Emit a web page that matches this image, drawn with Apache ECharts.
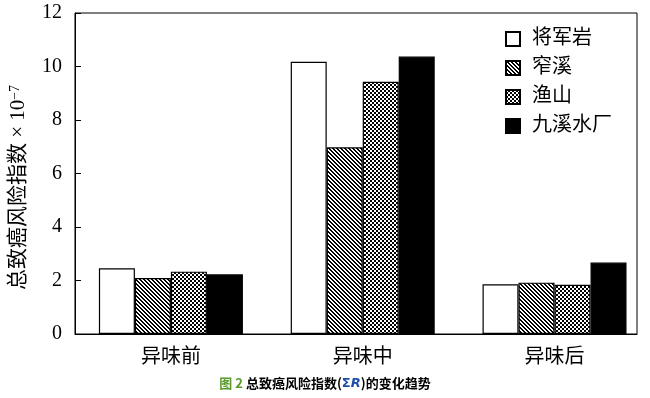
<!DOCTYPE html>
<html>
<head>
<meta charset="utf-8">
<script src="https://cdn.jsdelivr.net/npm/echarts@6/dist/echarts.min.js"></script>
<style>html,body{margin:0;padding:0;background:#fff}#c{width:650px;height:398px}</style>
</head>
<body>
<div id="c"></div>
<script>
// ---- data ----
var categories = ['异味前', '异味中', '异味后'];
var seriesNames = ['将军岩', '窄溪', '渔山', '九溪水厂'];
var jiangjunyan = [2.46, 10.18, 1.86];
var zhaixi = [2.09, 6.98, 1.92];
var yushan = [2.33, 9.43, 1.84];
var jiuxi = [2.23, 10.37, 2.67];
var yTicks = [0, 2, 4, 6, 8, 10, 12];

// ---- patterns (pixel tiles) ----
function makePattern(p, test) {
  var cv = document.createElement('canvas');
  cv.width = p; cv.height = p;
  var ctx = cv.getContext('2d');
  var img = ctx.createImageData(p, p);
  for (var y = 0; y < p; y++) {
    for (var x = 0; x < p; x++) {
      var k = (y * p + x) * 4;
      var v = test(x, y) ? 0 : 255;
      img.data[k] = v; img.data[k + 1] = v; img.data[k + 2] = v; img.data[k + 3] = 255;
    }
  }
  ctx.putImageData(img, 0, 0);
  return { image: cv, repeat: 'repeat' };
}
var hatch = makePattern(4, function (x, y) { return ((x - y) % 4 + 4) % 4 < 2; });
var cross = makePattern(4, function (x, y) {
  return ((x < 2) !== (y < 2));
});

var fills = ['#ffffff', hatch, cross, '#000000'];
var allValues = [jiangjunyan, zhaixi, yushan, jiuxi];

var serif = '"Liberation Serif", "Noto Sans CJK SC", serif';

var chart = echarts.init(document.getElementById('c'), null, { renderer: 'canvas' });
chart.setOption({
  animation: false,
  backgroundColor: '#fff',
  title: {
    left: 'center',
    bottom: 3,
    text: '{g|图 2 }{k|总致癌风险指数(}{b|Σ}{bi|R}{k|)的变化趋势}',
    textStyle: {
      rich: {
        g: { color: '#5b9a2b', fontSize: 13, fontWeight: 'bold', fontFamily: '"Noto Sans CJK SC"' },
        k: { color: '#000', fontSize: 13, fontWeight: 'bold', fontFamily: '"Noto Sans CJK SC"' },
        b: { color: '#1f4fa8', fontSize: 13, fontFamily: '"DejaVu Sans"' },
        bi: { color: '#1f4fa8', fontSize: 13, fontStyle: 'italic', fontFamily: '"DejaVu Sans"' }
      }
    }
  },
  grid: {
    left: 71, right: 13, top: 13, bottom: 64,
    show: true, borderColor: '#000', borderWidth: 1, backgroundColor: 'transparent'
  },
  legend: {
    orient: 'vertical',
    left: 505,
    top: 29,
    padding: 0,
    itemWidth: 14,
    itemHeight: 14,
    itemGap: 9,
    icon: 'rect',
    data: seriesNames,
    textStyle: { fontSize: 20, color: '#000', fontFamily: serif, padding: [0, 0, 0, 7] }
  },
  xAxis: {
    type: 'value',
    min: -0.5,
    max: 2.43,
    axisLine: { show: true, onZero: false, lineStyle: { color: '#000', width: 1 } },
    axisTick: { show: false },
    splitLine: { show: false },
    axisLabel: {
      customValues: [0, 1, 2],
      formatter: function (v) { return categories[Math.round(v)]; },
      fontSize: 20, color: '#000', fontFamily: serif, margin: 14
    }
  },
  yAxis: {
    type: 'value',
    min: 0, max: 12, interval: 2,
    name: '{cn|总致癌风险指数}{mul| × 10}{sup|−7}',
    nameLocation: 'middle',
    nameGap: 46,
    nameTextStyle: {
      fontSize: 20,
      fontFamily: serif,
      color: '#000',
      padding: [0, 28, 0, 0],
      rich: {
        cn: { fontSize: 21, color: '#000', fontFamily: serif },
        mul: { fontSize: 21, color: '#000', fontFamily: serif },
        sup: { fontSize: 14, color: '#000', fontFamily: serif, verticalAlign: 'top' }
      }
    },
    axisLine: { show: true, onZero: false, lineStyle: { color: '#000', width: 1 } },
    axisTick: { show: true, inside: true, length: 6, lineStyle: { color: '#000' } },
    splitLine: { show: false },
    axisLabel: {
      fontSize: 20, color: '#000', fontFamily: serif, margin: 13,
      formatter: function (v) { return yTicks.indexOf(v) >= 0 ? String(v) : ''; }
    }
  },
  series: seriesNames.map(function (name, i) {
    return {
      name: name,
      type: 'bar',
      barWidth: 36,
      barGap: '0%',
      itemStyle: { color: fills[i], borderColor: '#000', borderWidth: 1.2 },
      data: allValues[i].map(function (v, j) { return [j, v]; })
    };
  })
});
</script>
</body>
</html>
